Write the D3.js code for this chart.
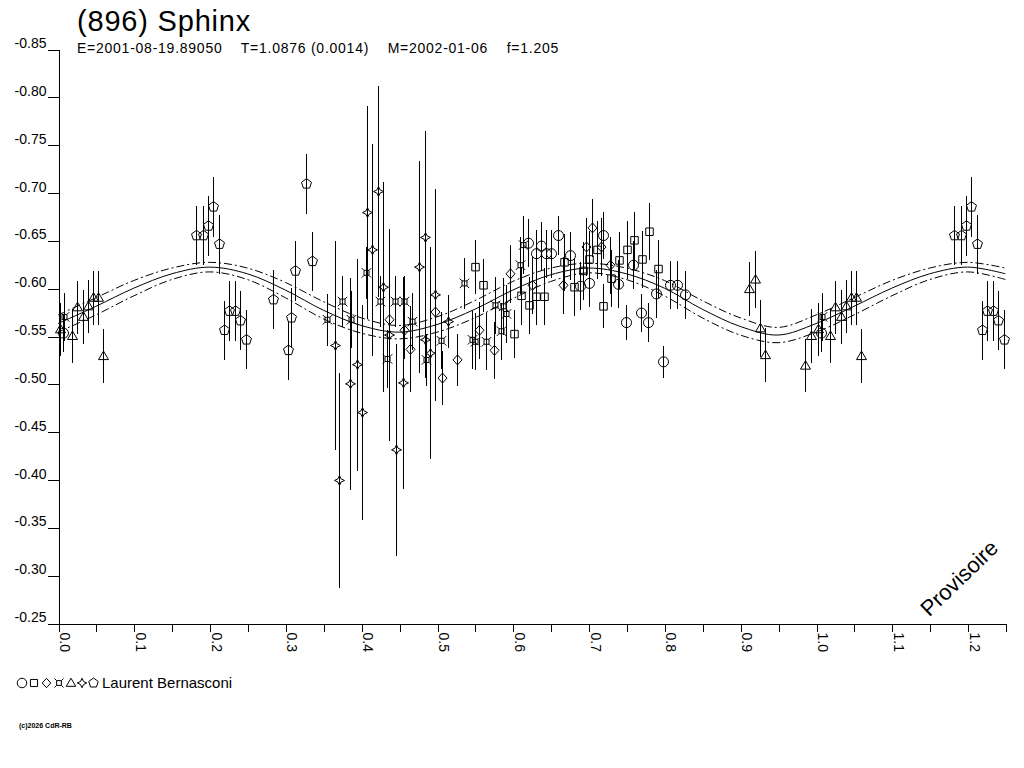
<!DOCTYPE html>
<html>
<head>
<meta charset="utf-8">
<script src="https://cdn.jsdelivr.net/npm/d3@7"></script>
<style>
  body { margin: 0; background: #fff; }
  svg { display: block; font-family: Arial, "Liberation Sans", sans-serif; }
</style>
</head>
<body>
<div id="chart"></div>
<script>
// fitted curve (phase 0..1, magnitude)
const fitPhase = [0, 0.05, 0.1, 0.15, 0.2, 0.25, 0.3, 0.35, 0.4, 0.45, 0.5, 0.55, 0.6, 0.65, 0.7, 0.75, 0.8, 0.85, 0.9, 0.95, 1.0];
const fitMag   = [-0.563, -0.581, -0.600, -0.615, -0.622, -0.615, -0.598, -0.577, -0.561, -0.554, -0.562, -0.578, -0.598, -0.614, -0.621, -0.615, -0.600, -0.578, -0.560, -0.551, -0.563];
const fitUpper = [-0.572, -0.590, -0.608, -0.621, -0.627, -0.621, -0.606, -0.586, -0.569, -0.561, -0.570, -0.587, -0.607, -0.621, -0.626, -0.621, -0.608, -0.587, -0.569, -0.559, -0.572];
const fitLower = [-0.554, -0.572, -0.592, -0.609, -0.617, -0.609, -0.590, -0.568, -0.553, -0.547, -0.554, -0.569, -0.589, -0.607, -0.616, -0.609, -0.592, -0.569, -0.551, -0.543, -0.554];

// observations: [phase, magnitude, error]
const circles = [
  [0.006, -0.553, 0.02], [0.620, -0.647, 0.025], [0.630, -0.636, 0.025], [0.637, -0.644, 0.025],
  [0.644, -0.636, 0.025], [0.650, -0.636, 0.025], [0.659, -0.655, 0.02], [0.676, -0.634, 0.025],
  [0.688, -0.602, 0.025], [0.700, -0.605, 0.025], [0.719, -0.655, 0.025], [0.739, -0.604, 0.025],
  [0.759, -0.624, 0.025], [0.749, -0.564, 0.018], [0.769, -0.574, 0.02], [0.778, -0.564, 0.02],
  [0.789, -0.594, 0.025], [0.798, -0.523, 0.017], [0.807, -0.603, 0.025], [0.817, -0.603, 0.025],
  [0.827, -0.593, 0.025]
];
const squares = [
  [0.550, -0.622, 0.028], [0.561, -0.603, 0.028], [0.601, -0.552, 0.025], [0.611, -0.592, 0.03],
  [0.621, -0.582, 0.03], [0.630, -0.591, 0.03], [0.641, -0.591, 0.03], [0.6675, -0.627, 0.03],
  [0.681, -0.601, 0.03], [0.692, -0.618, 0.03], [0.700, -0.630, 0.03], [0.711, -0.640, 0.03],
  [0.719, -0.581, 0.023], [0.730, -0.610, 0.03], [0.740, -0.629, 0.03], [0.750, -0.640, 0.03],
  [0.760, -0.650, 0.03], [0.770, -0.630, 0.03], [0.780, -0.659, 0.03], [0.791, -0.620, 0.03]
];
const diamonds = [
  [0.437, -0.567, 0.03], [0.456, -0.556, 0.03], [0.465, -0.536, 0.045], [0.497, -0.575, 0.03],
  [0.506, -0.506, 0.028], [0.526, -0.525, 0.027], [0.555, -0.556, 0.03], [0.575, -0.535, 0.03],
  [0.596, -0.615, 0.03], [0.625, -0.603, 0.03], [0.666, -0.603, 0.03], [0.697, -0.643, 0.03],
  [0.705, -0.663, 0.03], [0.716, -0.643, 0.03], [0.728, -0.624, 0.03]
];
const crosses = [
  [0.008, -0.570, 0.025], [0.355, -0.567, 0.027], [0.375, -0.586, 0.027], [0.387, -0.567, 0.03],
  [0.406, -0.616, 0.027], [0.425, -0.586, 0.027], [0.434, -0.526, 0.03], [0.445, -0.586, 0.027],
  [0.456, -0.586, 0.027], [0.467, -0.565, 0.03], [0.486, -0.525, 0.027], [0.505, -0.545, 0.03],
  [0.535, -0.605, 0.027], [0.546, -0.546, 0.03], [0.550, -0.544, 0.03], [0.565, -0.544, 0.03],
  [0.577, -0.582, 0.03], [0.584, -0.555, 0.03], [0.587, -0.581, 0.03], [0.591, -0.573, 0.03],
  [0.610, -0.624, 0.03], [0.613, -0.645, 0.03]
];
const triangles = [
  [0.002, -0.557, 0.028], [0.018, -0.550, 0.028], [0.0255, -0.580, 0.028], [0.0325, -0.570, 0.028],
  [0.040, -0.581, 0.028], [0.0466, -0.590, 0.028], [0.053, -0.590, 0.028], [0.0598, -0.529, 0.028],
  [0.912, -0.599, 0.028], [0.920, -0.609, 0.03], [0.926, -0.558, 0.03], [0.933, -0.530, 0.028],
  [0.9855, -0.519, 0.028], [0.993, -0.550, 0.028]
];
const stars = [
  [0.4226, -0.701, 0.11], [0.407, -0.679, 0.111], [0.4147, -0.640, 0.111], [0.484, -0.653, 0.111],
  [0.4767, -0.622, 0.111], [0.429, -0.601, 0.11], [0.498, -0.593, 0.111], [0.371, -0.399, 0.112],
  [0.446, -0.431, 0.111], [0.401, -0.470, 0.112], [0.385, -0.500, 0.111], [0.394, -0.520, 0.111],
  [0.455, -0.501, 0.111], [0.365, -0.540, 0.109], [0.437, -0.551, 0.111], [0.491, -0.532, 0.111],
  [0.515, -0.565, 0.028], [0.484, -0.546, 0.04]
];
const pentagons = [
  [0.182, -0.655, 0.031], [0.191, -0.655, 0.031], [0.198, -0.665, 0.031], [0.204, -0.685, 0.031],
  [0.212, -0.646, 0.031], [0.219, -0.556, 0.031], [0.226, -0.576, 0.031], [0.2335, -0.576, 0.031],
  [0.240, -0.566, 0.031], [0.2476, -0.546, 0.031], [0.283, -0.588, 0.031], [0.303, -0.535, 0.031],
  [0.307, -0.569, 0.031], [0.313, -0.618, 0.031], [0.327, -0.709, 0.031], [0.3355, -0.628, 0.031]
];

const xTicks = [0, 0.05, 0.1, 0.15, 0.2, 0.25, 0.3, 0.35, 0.4, 0.45, 0.5, 0.55, 0.6, 0.65, 0.7, 0.75, 0.8, 0.85, 0.9, 0.95, 1.0, 1.05, 1.1, 1.15, 1.2, 1.25];
const xTickLabels = ["0.0", "", "0.1", "", "0.2", "", "0.3", "", "0.4", "", "0.5", "", "0.6", "", "0.7", "", "0.8", "", "0.9", "", "1.0", "", "1.1", "", "1.2", ""];
const yTicks = [-0.85, -0.80, -0.75, -0.70, -0.65, -0.60, -0.55, -0.50, -0.45, -0.40, -0.35, -0.30, -0.25];
const yTickLabels = ["-0.85", "-0.80", "-0.75", "-0.70", "-0.65", "-0.60", "-0.55", "-0.50", "-0.45", "-0.40", "-0.35", "-0.30", "-0.25"];

const title = "(896) Sphinx";
const subtitle = "E=2001-08-19.89050    T=1.0876 (0.0014)    M=2002-01-06    f=1.205";
const observer = "Laurent Bernasconi";

const width = 1024, height = 768;

let svg = d3.select("#chart").append("svg")
    .attr("width", width)
    .attr("height", height);

let x = d3.scaleLinear().domain([0, 1.25]).range([58, 1005.5]);
let y = d3.scaleLinear().domain([-0.85, -0.25]).range([49, 623]);

// symbols drawn the way the picture shows them
const symbolTypes = {
    circle: { draw(c, s){ const r = Math.sqrt(s) / 2; c.moveTo(r, 0); c.arc(0, 0, r, 0, 2 * Math.PI); } },
    square: { draw(c, s){ const r = Math.sqrt(s) / 2 * 0.75; c.rect(-r, -r, 2 * r, 2 * r); } },
    diamond: { draw(c, s){ const r = Math.sqrt(s) / 2;
        c.moveTo(0, -r); c.lineTo(r * 0.9, 0); c.lineTo(0, r); c.lineTo(-r * 0.9, 0); c.closePath(); } },
    cross: { draw(c, s){ const r = Math.sqrt(s) / 2, a = r * 0.5;
        c.rect(-a, -a, 2 * a, 2 * a);
        [[1, 1], [1, -1], [-1, 1], [-1, -1]].forEach(function(k){
            c.moveTo(k[0] * a, k[1] * a); c.lineTo(k[0] * r * 0.95, k[1] * r * 0.95);
        }); } },
    triangle: { draw(c, s){ const r = Math.sqrt(s) / 2;
        c.moveTo(0, -r); c.lineTo(r, r * 0.7); c.lineTo(-r, r * 0.7); c.closePath(); } },
    star: { draw(c, s){ const r = Math.sqrt(s) / 2, q = r * 0.32;
        c.moveTo(0, -r); c.lineTo(q, -q); c.lineTo(r, 0); c.lineTo(q, q);
        c.lineTo(0, r); c.lineTo(-q, q); c.lineTo(-r, 0); c.lineTo(-q, -q); c.closePath(); } },
    pentagon: { draw(c, s){ const r = Math.sqrt(s) / 2 * 1.05;
        for (let k = 0; k < 5; k++) {
            const a = -Math.PI / 2 + k * 2 * Math.PI / 5;
            if (k) c.lineTo(r * Math.cos(a), r * Math.sin(a)); else c.moveTo(r * Math.cos(a), r * Math.sin(a));
        }
        c.closePath(); } }
};

const series = [
    { data: circles, type: "circle" },
    { data: squares, type: "square" },
    { data: diamonds, type: "diamond" },
    { data: crosses, type: "cross" },
    { data: triangles, type: "triangle" },
    { data: stars, type: "star" },
    { data: pentagons, type: "pentagon" }
];

// titles
svg.append("text").attr("x", 77).attr("y", 31)
   .style("font-size", "29px").style("letter-spacing", "0.8px").text(title);
svg.append("text").attr("x", 77).attr("y", 53)
   .style("font-size", "14px").style("letter-spacing", "0.75px").style("white-space", "pre").text(subtitle);

// axes
let xAxis = d3.axisBottom(x).tickValues(xTicks).tickSize(8).tickSizeOuter(0)
    .tickFormat(function(d, i){ return xTickLabels[i]; });
let yAxis = d3.axisLeft(y).tickValues(yTicks).tickSize(11).tickSizeOuter(0)
    .tickFormat(function(d, i){ return yTickLabels[i]; });

let gx = svg.append("g")
   .attr("transform", "translate(0.5,623.5)")
   .style("shape-rendering", "crispEdges")
   .call(xAxis);
gx.selectAll("text")
   .attr("transform", "rotate(90)")
   .attr("x", 9).attr("y", -1).attr("dy", "0")
   .style("text-anchor", "start")
   .style("font-size", "14px")
   .style("font-family", "Arial, 'Liberation Sans', sans-serif");

let gy = svg.append("g")
   .attr("transform", "translate(58.5,0.5)")
   .style("shape-rendering", "crispEdges")
   .call(yAxis);
gy.selectAll("text")
   .attr("x", -12).attr("y", -2).attr("dy", "0")
   .style("font-size", "14px")
   .style("font-family", "Arial, 'Liberation Sans', sans-serif");
svg.selectAll(".domain, .tick line").attr("stroke", "#000");

// fitted curve repeated past phase 1
function wrapCurve(vals){
    let pts = fitPhase.map(function(p, i){ return [p, vals[i]]; });
    fitPhase.forEach(function(p, i){ if (p > 0 && p <= 0.25) pts.push([p + 1, vals[i]]); });
    return pts;
}
let line = d3.line()
    .x(function(d){ return x(d[0]); })
    .y(function(d){ return y(d[1]); })
    .curve(d3.curveCatmullRom);

svg.append("path").datum(wrapCurve(fitMag))
   .attr("d", line).attr("fill", "none").attr("stroke", "#000").attr("stroke-width", 1);
[fitUpper, fitLower].forEach(function(vals){
    svg.append("path").datum(wrapCurve(vals))
       .attr("d", line).attr("fill", "none").attr("stroke", "#000").attr("stroke-width", 1)
       .attr("stroke-dasharray", "8,3,2,3");
});

// observations, points before phase 0.25 shown again after phase 1
function wrapPoints(data){
    let out = data.slice();
    data.forEach(function(d){ if (d[0] < 0.25) out.push([d[0] + 1, d[1], d[2]]); });
    return out.filter(function(d){ return d[0] <= 1.25; });
}

let gBars = svg.append("g").style("shape-rendering", "crispEdges");
let gMarks = svg.append("g");

series.forEach(function(s){
    let pts = wrapPoints(s.data);
    gBars.selectAll(null)
        .data(pts)
        .enter()
        .append("line")
        .attr("x1", function(d){ return Math.round(x(d[0])) + 0.5; })
        .attr("x2", function(d){ return Math.round(x(d[0])) + 0.5; })
        .attr("y1", function(d){ return y(d[1] - d[2]); })
        .attr("y2", function(d){ return y(d[1] + d[2]); })
        .attr("stroke", "#000")
        .attr("stroke-width", 1);

    gMarks.selectAll(null)
        .data(pts)
        .enter()
        .append("path")
        .attr("d", d3.symbol().type(symbolTypes[s.type]).size(100))
        .attr("transform", function(d){ return "translate(" + (Math.round(x(d[0])) + 0.5) + "," + y(d[1]) + ")"; })
        .attr("fill", "none")
        .attr("stroke", "#000")
        .attr("stroke-width", 1);
});

// watermark
svg.append("text")
   .attr("transform", "translate(959,578) rotate(-44)")
   .attr("dy", "0.35em")
   .style("text-anchor", "middle")
   .style("font-size", "22px")
   .text("Provisoire");

// legend
let legendX = [22, 34, 46.5, 59, 71, 82, 93.5];
series.forEach(function(s, i){
    svg.append("path")
       .attr("d", d3.symbol().type(symbolTypes[s.type]).size(90))
       .attr("transform", "translate(" + legendX[i] + ",683)")
       .attr("fill", "none").attr("stroke", "#000").attr("stroke-width", 1);
});
svg.append("text").attr("x", 102).attr("y", 688)
   .style("font-size", "15px").text(observer);

svg.append("text").attr("x", 19).attr("y", 728)
   .style("font-size", "7px").style("font-weight", "bold").text("(c)2026 CdR-RB");
</script>
</body>
</html>
